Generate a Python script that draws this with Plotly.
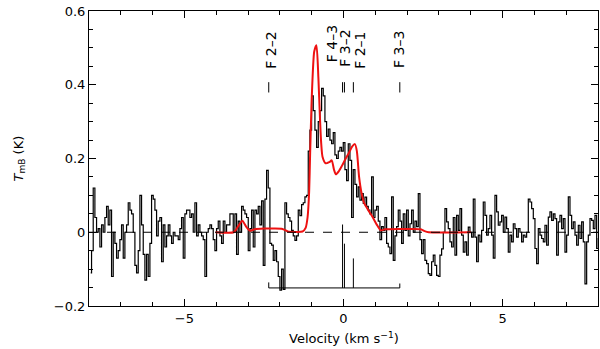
import numpy as np
import plotly.graph_objects as go

# spectrum: first channel velocity and channel width (km/s)
V0 = -7.946
DV = 0.0524

tmb = [
    # -7.95 .. -2.8 km/s
    -0.11, -0.05, 0.12, 0.04, 0.00, 0.01, -0.04, 0.02, 0.00, 0.04,
    0.07, 0.02, 0.06, -0.12, 0.00, -0.03, -0.07, -0.05, -0.02, 0.02,
    -0.07, 0.00, 0.02, 0.08, 0.06, 0.05, 0.00, -0.09, -0.11, -0.05,
    0.10, 0.02, -0.06, -0.13, -0.06, -0.12, -0.03, 0.10, 0.09, 0.06,
    -0.01, 0.03, 0.04, -0.08, 0.02, -0.04, -0.01, 0.02, -0.01, -0.03,
    0.00, -0.01, -0.01, -0.02, 0.01, 0.04, -0.07, 0.05, 0.06, 0.06,
    0.04, 0.05, 0.00, 0.08, -0.01, 0.02, 0.00, -0.01, -0.02, -0.12,
    0.00, 0.01, 0.02, 0.01, -0.02, -0.05, 0.01, 0.03, -0.01, -0.03,
    0.03, 0.00, 0.02, 0.02, 0.05, 0.05, 0.00, 0.05, -0.06, 0.03,
    0.00, 0.07, 0.06, 0.05, 0.04, -0.05, 0.01, 0.06, -0.04,
    # -2.75 .. 0.02 km/s
    0.06, 0.05, 0.07, 0.02, 0.085, -0.09, 0.09, 0.168, 0.12, -0.03,
    -0.035, -0.076, -0.05, -0.08, -0.12, -0.157, -0.10, -0.155, 0.08, 0.05,
    0.04, 0.03, 0.005, -0.01, -0.022, -0.01, 0.06, 0.045, 0.075, 0.08,
    0.096, 0.10, 0.22, 0.277, 0.37, 0.33, 0.277, 0.23, 0.30, 0.33,
    0.39, 0.37, 0.30, 0.26, 0.28, 0.25, 0.24, 0.27, 0.21, 0.20,
    0.22, 0.23, 0.22, 0.243,
    # 0.07 .. 2.7 km/s
    0.17, 0.14, 0.24, 0.195, 0.04, 0.17, 0.13, 0.096, 0.123, 0.087,
    0.105, 0.078, 0.095, 0.07, 0.06, 0.05, 0.15, 0.04, 0.06, 0.07,
    0.03, -0.02, 0.015, 0.005, 0.04, -0.03, -0.04, -0.058, 0.096, -0.076,
    -0.01, 0.015, 0.06, 0.03, -0.03, 0.05, 0.005, 0.06, -0.01, 0.023,
    0.06, 0.00, 0.03, 0.015, 0.105, -0.02, -0.058, -0.02, -0.076, -0.085,
    -0.112,
    # 2.72 .. 8.0 km/s
    -0.117, -0.08, -0.062, -0.09, -0.117, -0.12, -0.062, -0.045, 0.00, 0.064,
    0.028, 0.01, -0.026, -0.04, 0.04, -0.062, 0.046, 0.005, 0.064, -0.008,
    -0.054, -0.026, -0.062, 0.014, 0.00, -0.013, 0.09, -0.013, -0.08, -0.008,
    -0.026, 0.005, 0.082, 0.046, -0.008, 0.01, 0.046, -0.008, -0.07, 0.10,
    0.055, 0.019, 0.028, 0.046, 0.00, 0.041, 0.01, -0.054, -0.008, -0.026,
    0.023, 0.01, -0.013, 0.01, 0.00, -0.026, -0.008, -0.013, 0.00, 0.09,
    0.082, 0.064, 0.037, -0.044, -0.085, 0.01, -0.008, -0.017, -0.026, 0.019,
    -0.035, 0.041, 0.055, 0.032, 0.05, 0.037, -0.062, 0.028, 0.046, 0.01,
    0.037, -0.054, -0.008, 0.096, 0.046, 0.01, 0.028, -0.008, -0.035, 0.019,
    -0.017, 0.028, -0.026, -0.14, -0.026, -0.008, 0.037, 0.032, 0.01, 0.046,
    -0.044, -0.017,
]

# hyperfine fit
model_v = [-4.02, -3.45, -3.32, -3.18, -3.06, -2.94, -2.8, -2.5, -2.2, -1.92,
           -1.75, -1.5, -1.29, -1.19, -1.13, -1.08, -1.05, -1.0, -0.92, -0.85,
           -0.79, -0.74, -0.70, -0.66, -0.56, -0.45, -0.37, -0.30, -0.24, -0.15,
           -0.05, 0.07, 0.17, 0.27, 0.36, 0.42, 0.49, 0.57, 0.65, 0.78,
           0.91, 1.05, 1.17, 1.3, 1.8, 2.2, 2.43, 2.55, 2.68, 4.0]
model_t = [0.0, 0.0, 0.015, 0.031, 0.015, 0.004, 0.008, 0.01, 0.01, 0.009,
           0.002, 0.001, 0.002, 0.012, 0.04, 0.11, 0.21, 0.36, 0.49, 0.507,
           0.42, 0.31, 0.24, 0.205, 0.187, 0.19, 0.195, 0.17, 0.157, 0.165,
           0.18, 0.20, 0.215, 0.232, 0.239, 0.22, 0.15, 0.105, 0.079, 0.06,
           0.042, 0.02, 0.005, 0.008, 0.009, 0.009, 0.008, 0.003, 0.0, 0.0]

# hyperfine components
hf_names = ['F 2\u20132', 'F 4\u20133', 'F 3\u20132', 'F 2\u20131', 'F 3\u20133']
hf_vel = [-2.35, -0.03, 0.03, 0.31, 1.77]
hf_top = [-0.136, 0.021, -0.031, -0.071, -0.139]
hf_base = -0.151

# label placement (layout only)
lab_x = [-2.28, -0.38, 0.02, 0.52, 1.75]
lab_y = [0.495, 0.511, 0.498, 0.492, 0.495]
mark_y = (0.379, 0.407)

velocity = V0 + DV * np.arange(len(tmb))

FONT = 'DejaVu Sans'
fig = go.Figure()

fig.add_hline(y=0, line=dict(color='black', width=1, dash='dash'))

fig.add_trace(go.Scatter(x=velocity, y=tmb, mode='lines',
                         line=dict(color='black', width=1.2, shape='hvh')))
fig.add_trace(go.Scatter(x=model_v, y=model_t, mode='lines',
                         line=dict(color='#ee1111', width=2, shape='spline', smoothing=0.6)))

# stick pattern under the line
sx, sy = [hf_vel[0], hf_vel[-1], None], [hf_base, hf_base, None]
for v, t in zip(hf_vel, hf_top):
    sx += [v, v, None]
    sy += [hf_base, t, None]
fig.add_trace(go.Scatter(x=sx, y=sy, mode='lines', line=dict(color='black', width=1)))

# small markers + rotated labels
mx, my = [], []
for v in hf_vel:
    mx += [v, v, None]
    my += [mark_y[0], mark_y[1], None]
fig.add_trace(go.Scatter(x=mx, y=my, mode='lines', line=dict(color='black', width=1)))
for name, x, y in zip(hf_names, lab_x, lab_y):
    fig.add_annotation(x=x, y=y, text=name, textangle=-90, showarrow=False,
                       font=dict(family=FONT, size=14, color='black'),
                       xanchor='center', yanchor='middle')

fig.add_annotation(xref='paper', yref='paper', x=-0.158, y=0.5,
                   text='<i>T</i><sub>mB</sub> (K)', textangle=-90, showarrow=False,
                   font=dict(family=FONT, size=13, color='black'))
fig.add_annotation(xref='paper', yref='paper', x=0.5, y=-0.108, yanchor='middle',
                   text='Velocity (km s<sup>\u22121</sup>)', showarrow=False,
                   font=dict(family=FONT, size=13, color='black'))

fig.update_xaxes(range=[-8, 8], tick0=0, dtick=5, ticks='inside', ticklen=7,
                 minor=dict(dtick=1, ticks='inside', ticklen=4, tickcolor='black'),
                 showline=True, linecolor='black', mirror='allticks', showgrid=False,
                 zeroline=False, tickcolor='black', automargin=False,
                 tickfont=dict(family=FONT, size=13, color='black'))
fig.update_yaxes(range=[-0.2, 0.6], tick0=0, dtick=0.2, ticks='inside', ticklen=7,
                 minor=dict(dtick=0.05, ticks='inside', ticklen=4, tickcolor='black'),
                 showline=True, linecolor='black', mirror='allticks', showgrid=False,
                 zeroline=False, tickcolor='black', automargin=False,
                 tickfont=dict(family=FONT, size=13, color='black'))

fig.update_layout(width=600, height=349, showlegend=False,
                  margin=dict(l=89, r=2, t=11, b=43),
                  plot_bgcolor='white', paper_bgcolor='white')

# drop the default 8px page margin so the figure sits at the window corner
fig.write_html("out.html", config={'displayModeBar': False},
               post_script="document.body.style.margin='0';")
